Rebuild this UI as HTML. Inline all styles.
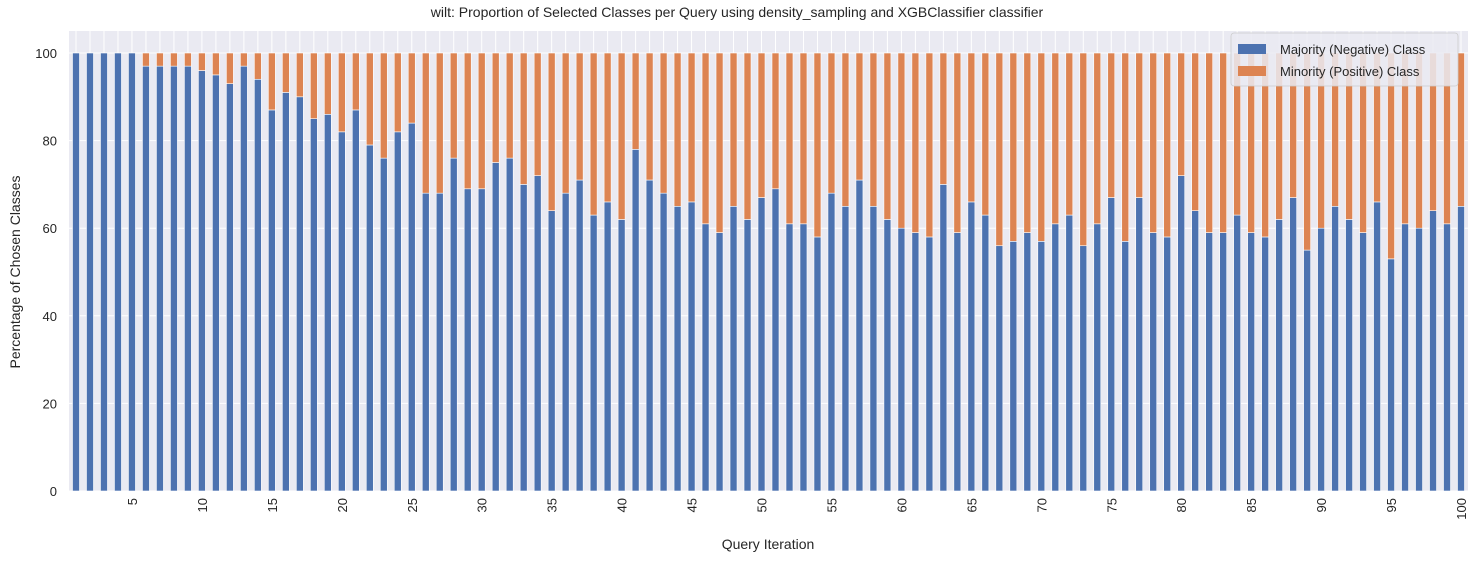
<!DOCTYPE html>
<html><head><meta charset="utf-8"><style>body{margin:0;background:#fff}svg{display:block;font-family:"Liberation Sans",Arial,sans-serif}</style></head>
<body>
<svg id="chart" width="1474" height="561">
<text x="737" y="17" text-anchor="middle" font-size="14" fill="#262626">wilt: Proportion of Selected Classes per Query using density_sampling and XGBClassifier classifier</text>
<rect x="69" y="31" width="1399" height="460" fill="#eaeaf2"/>
<g id="grid"></g><g id="bars"></g><g id="axes"></g>
<text x="768" y="549" text-anchor="middle" font-size="14" fill="#262626">Query Iteration</text>
<text transform="translate(20,272) rotate(-90)" text-anchor="middle" font-size="14" fill="#262626">Percentage of Chosen Classes</text>
<g>
<rect x="1231" y="33" width="227" height="53" rx="3" fill="#eaeaf2" fill-opacity="0.85" stroke="#cccccc" stroke-width="0.8"/>
<rect x="1238" y="44" width="28" height="10" fill="#4c72b0"/>
<text x="1280" y="54" font-size="13" fill="#262626">Majority (Negative) Class</text>
<rect x="1238" y="66" width="28" height="10" fill="#dd8452"/>
<text x="1280" y="76" font-size="13" fill="#262626">Minority (Positive) Class</text>
</g>
</svg>
<script>
const majority=[100,100,100,100,100,97,97,97,97,96,95,93,97,94,87,91,90,85,86,82,87,79,76,82,84,68,68,76,69,69,75,76,70,72,64,68,71,63,66,62,78,71,68,65,66,61,59,65,62,67,69,61,61,58,68,65,71,65,62,60,59,58,70,59,66,63,56,57,59,57,61,63,56,61,67,57,67,59,58,72,64,59,59,63,59,58,62,67,55,60,65,62,59,66,53,61,60,64,61,65];
const yTicks=[0,20,40,60,80,100];
const xTickLabels=[5,10,15,20,25,30,35,40,45,50,55,60,65,70,75,80,85,90,95,100];
const NS='http://www.w3.org/2000/svg';
const L=69,R=1468,Y0=491,Y100=53;
const n=majority.length, step=(R-L)/n;
const xc=i=>L+step*(i+0.5);
const y=v=>Y0-(Y0-Y100)*v/100;
function mk(t,a,p){const e=document.createElementNS(NS,t);for(const k in a)e.setAttribute(k,a[k]);p.appendChild(e);return e;}
const grid=document.getElementById('grid'),bars=document.getElementById('bars'),axes=document.getElementById('axes');
for(let i=0;i<n;i++){const l=mk('line',{x1:xc(i),x2:xc(i),y1:31,y2:491,stroke:'#fff','stroke-width':1},grid);

}
yTicks.forEach(v=>{const l=mk('line',{x1:L,x2:R,y1:y(v),y2:y(v),stroke:'#fff','stroke-width':1},grid);


const t=mk('text',{x:57,y:y(v)+5,'text-anchor':'end','font-size':13,fill:'#262626'},axes);t.textContent=v;

});
const bw=step*0.5;
majority.forEach((m,i)=>{
const b=mk('rect',{x:xc(i)-bw/2,y:y(m),width:bw,height:Y0-y(m),fill:'#4c72b0',stroke:'#fff','stroke-width':0.6},bars);


const o=mk('rect',{x:xc(i)-bw/2,y:y(100),width:bw,height:y(m)-y(100),fill:'#dd8452',stroke:'#fff','stroke-width':0.6},bars);

});
xTickLabels.forEach(v=>{const x=xc(v-1);const t=mk('text',{transform:`translate(${x+5},${498}) rotate(-90)`,'text-anchor':'end','font-size':13,fill:'#262626'},axes);t.textContent=v;

});
</script>
</body></html>
